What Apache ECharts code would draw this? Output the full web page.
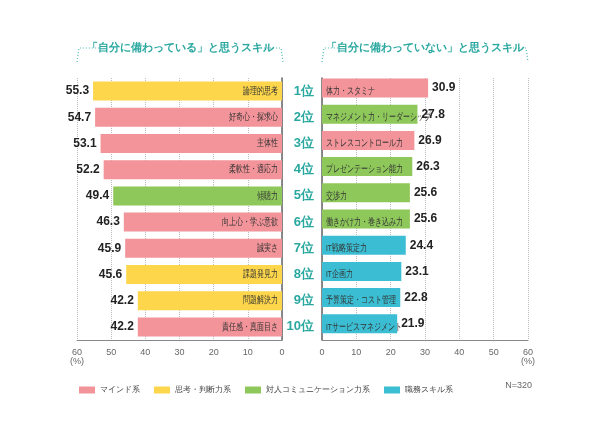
<!DOCTYPE html><html><head><meta charset="utf-8"><script src="https://cdn.jsdelivr.net/npm/echarts@6/dist/echarts.min.js"></script></head><body style="margin:0"><div id="c" style="width:600px;height:433px"></div><script>
const ranks=['1位','2位','3位','4位','5位','6位','7位','8位','9位','10位'];
const leftNames=['論理的思考','好奇心・探求心','主体性','柔軟性・適応力','傾聴力','向上心・学ぶ意欲','誠実さ','課題発見力','問題解決力','責任感・真面目さ'];
const leftVals=[55.3,54.7,53.1,52.2,49.4,46.3,45.9,45.6,42.2,42.2];
const leftCat=[1,0,0,0,2,0,0,1,1,0];
const rightNames=['体力・スタミナ','マネジメント力・リーダーシップ','ストレスコントロール力','プレゼンテーション能力','交渉力','働きかけ力・巻き込み力','IT戦略策定力','IT企画力','予算策定・コスト管理','ITサービスマネジメント'];
const rightVals=[30.9,27.8,26.9,26.3,25.6,25.6,24.4,23.1,22.8,21.9];
const rightCat=[0,2,0,2,2,2,3,3,3,3];
const groups=['マインド系','思考・判断力系','対人コミュニケーション力系','職務スキル系'];
const colors=['#F29499','#FDD64B','#8EC85B','#3BBED3'];
const tick=['0','10','20','30','40','50','60\n(%)'];
const mk=(v,c,n)=>v.map((x,i)=>({value:x,name:n[i],itemStyle:{color:colors[c[i]]}}));
const xa=(g,inv)=>({gridIndex:g,type:'value',min:0,max:60,interval:10,inverse:inv,axisLine:{show:true,lineStyle:{color:'#888'}},axisTick:{show:false},splitLine:{show:true,lineStyle:{type:'dotted',color:'#bbb'}},axisLabel:{color:'#666',fontSize:9,formatter:v=>tick[v/10]}});
const ya=(g,pos,show)=>({gridIndex:g,type:'category',data:ranks,inverse:true,position:pos,axisLine:{show:true,lineStyle:{color:'#666',width:1.5}},axisTick:{show:false},axisLabel:{show:show,color:'#2AA8A0',fontSize:13,fontWeight:'bold',margin:8}});
const valLbl=(pos)=>({show:true,position:pos,formatter:p=>p.value.toFixed(1),fontSize:12,fontWeight:'bold',color:'#222',distance:4});
const bw=19;
const nameSeries=(g,names,right)=>({type:'custom',xAxisIndex:g,yAxisIndex:g,silent:true,z:5,
 data:names.map((n,i)=>[0,i]),
 renderItem:(params,api)=>{const p=api.coord([0,api.value(1)]);const i=params.dataIndex;
  return {type:'text',x:p[0]+(right?4:-4),y:p[1],scaleX:0.7,style:{text:names[i],fontSize:9.5,fill:'#333',align:right?'left':'right',verticalAlign:'middle'}};}});
const dotted=(pts)=>({type:'polyline',shape:{points:pts},style:{stroke:'#4BB8B0',lineDash:[1,2],lineWidth:1.2,fill:null}});
const chart=echarts.init(document.getElementById('c'));
chart.setOption({
 animation:false,
 grid:[{left:77,right:318,top:78,bottom:93},{left:322,right:72,top:78,bottom:93}],
 xAxis:[xa(0,true),xa(1,false)],
 yAxis:[ya(0,'right',false),ya(1,'left',true)],
 legend:{top:381,left:74,itemWidth:16,itemHeight:7,itemGap:14,icon:'rect',textStyle:{fontSize:8,color:'#444'},data:groups},
 series:[
  {type:'bar',xAxisIndex:0,yAxisIndex:0,barWidth:bw,data:mk(leftVals,leftCat,leftNames),label:valLbl('left')},
  {type:'bar',xAxisIndex:1,yAxisIndex:1,barWidth:bw,data:mk(rightVals,rightCat,rightNames),label:valLbl('right')},
  nameSeries(0,leftNames,false),nameSeries(1,rightNames,true),
  ...groups.map((g,i)=>({type:'bar',name:g,xAxisIndex:1,yAxisIndex:1,data:[],itemStyle:{color:colors[i]}}))
 ],
 graphic:[
  {type:'text',x:180,y:48,style:{text:'「自分に備わっている」と思うスキル',fill:'#2AA8A0',fontSize:11,fontWeight:'bold',align:'center',verticalAlign:'middle'}},
  {type:'text',x:425,y:48,style:{text:'「自分に備わっていない」と思うスキル',fill:'#2AA8A0',fontSize:11,fontWeight:'bold',align:'center',verticalAlign:'middle'}},
  dotted([[77,62],[79,48],[100,48]]),dotted([[258,48],[281,48],[283,62]]),
  dotted([[322,62],[324,48],[340,48]]),dotted([[510,48],[526,48],[528,62]]),
  {type:'text',x:532,y:386,style:{text:'N=320',fill:'#666',fontSize:9,align:'right',verticalAlign:'middle'}}
 ]
});
</script></body></html>
